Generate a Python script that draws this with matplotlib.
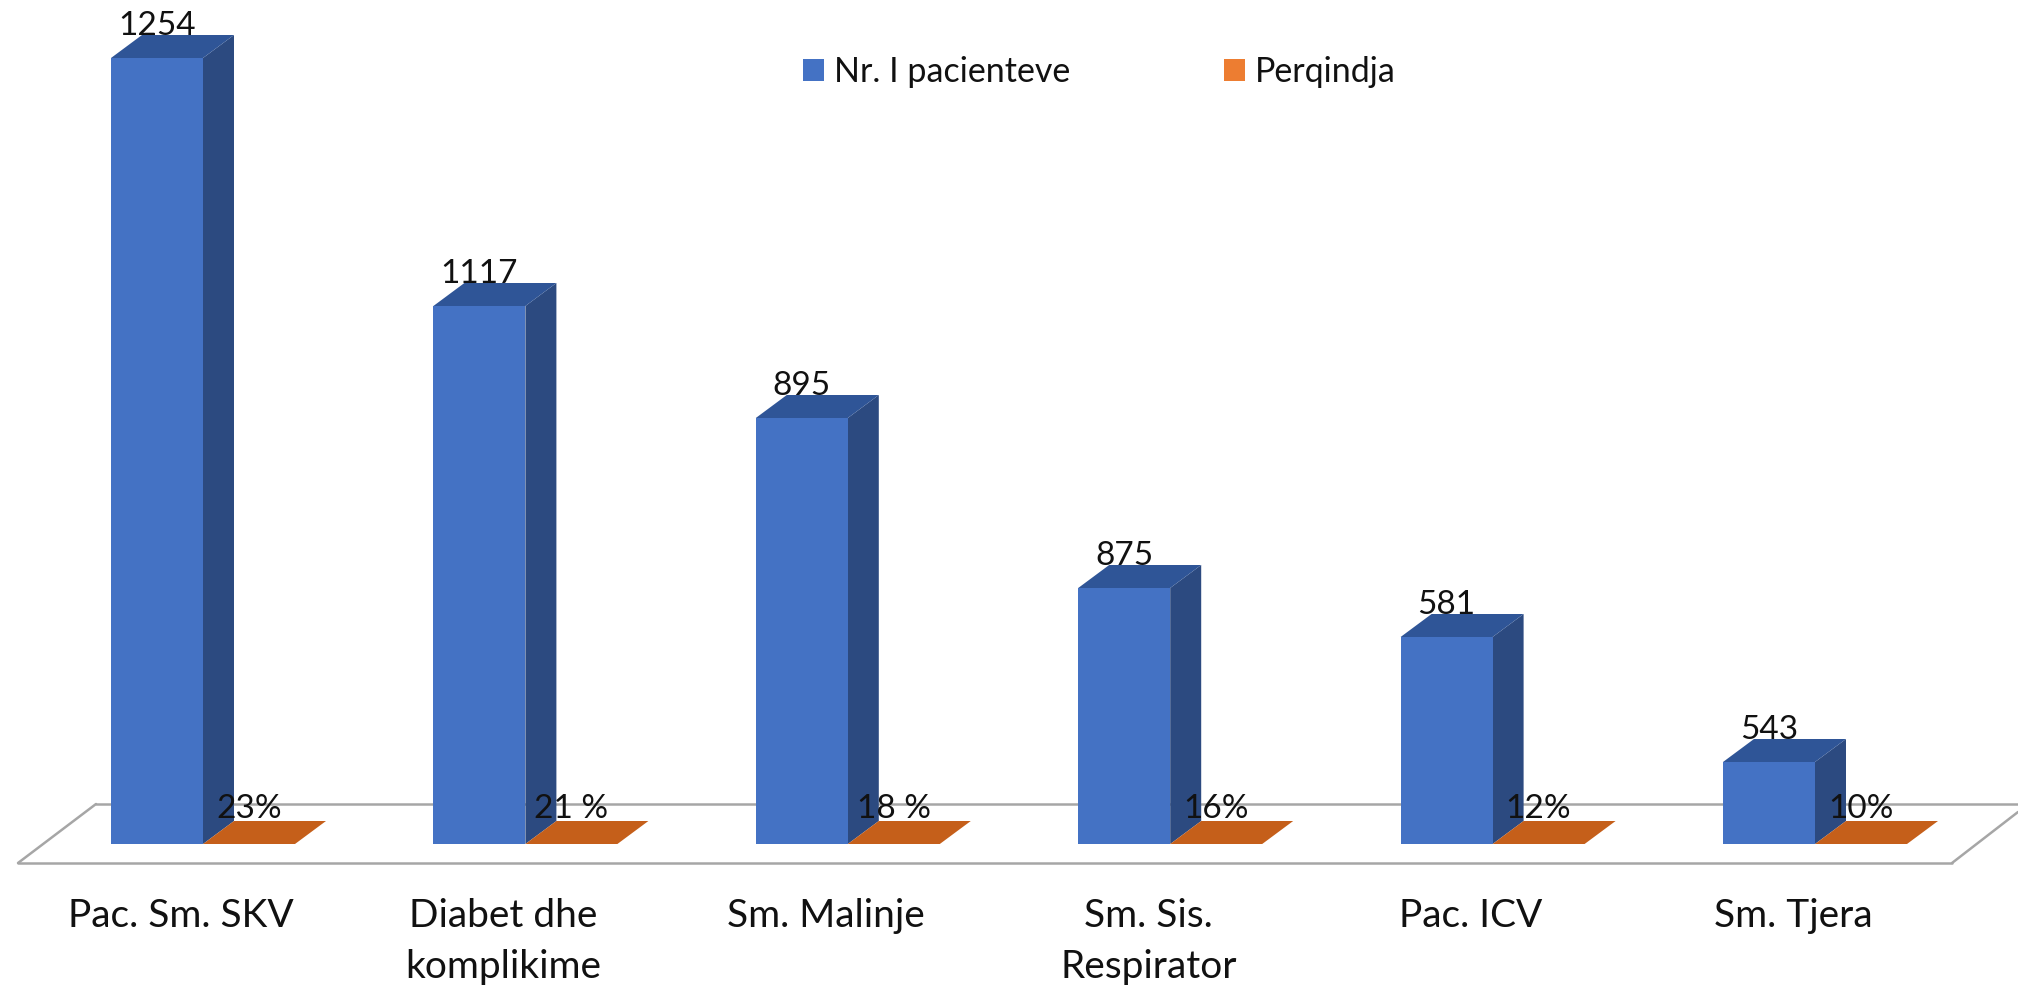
import matplotlib
matplotlib.use("Agg")
import matplotlib.pyplot as plt
from matplotlib.patches import Polygon, Patch

categories = ["Pac. Sm. SKV", "Diabet dhe\nkomplikime", "Sm. Malinje", "Sm. Sis.\nRespirator", "Pac. ICV", "Sm. Tjera"]
patient_labels = ["1254", "1117", "895", "875", "581", "543"]
percent_labels = ["23%", "21 %", "18 %", "16%", "12%", "10%"]
# the drawn bar heights of the reference are not proportional to their labels
drawn_patients = [786, 538, 426, 256, 207, 82]
drawn_percent = [0, 0, 0, 0, 0, 0]
series_names = ["Nr. I pacienteve", "Perqindja"]

W, H = 2018, 991
BASE_PX = 844
GROUP_PX, START_PX = 322.4, 203
BLUE, BLUE_TOP, BLUE_SIDE = "#4472C4", "#2F5597", "#2C4A80"
ORANGE, ORANGE_TOP = "#ED7D31", "#C55F1A"
FLOOR = "#A6A6A6"

plt.rcParams["font.family"] = ["Lato", "DejaVu Sans"]
fig = plt.figure(figsize=(W / 100, H / 100), dpi=100, facecolor="white")
ax = fig.add_axes([0, (H - BASE_PX) / H, 1, BASE_PX / H])
ax.set_xlim(-START_PX / GROUP_PX, (W - START_PX) / GROUP_PX)
ax.set_ylim(0, BASE_PX)
for s in ax.spines.values():
    s.set_visible(False)
ax.set_yticks([])

bar_w = 92 / GROUP_PX
dx, dy = 31 / GROUP_PX, 23

# floor
x0, x1 = ax.get_xlim()
fl = dict(color=FLOOR, lw=1.8, clip_on=False, zorder=1, solid_capstyle="round")
front_l, front_r = x0 + 18 / GROUP_PX, x0 + 1952 / GROUP_PX
back_l, back_r = x0 + 96 / GROUP_PX, x1
ax.plot([front_l, front_r], [-19, -19], **fl)
ax.plot([back_l, back_r], [40, 40], **fl)
ax.plot([front_l, back_l], [-19, 40], **fl)
ax.plot([front_r, back_r], [-19, 32], **fl)

xs = list(range(len(categories)))
ax.bar([x - bar_w / 2 for x in xs], drawn_patients, bar_w, color=BLUE, zorder=3)
for x, h in zip(xs, drawn_patients):
    l, r = x - bar_w, x
    ax.add_patch(Polygon([(r, 0), (r + dx, dy), (r + dx, h + dy), (r, h)], color=BLUE_SIDE, lw=0, zorder=2))
    ax.add_patch(Polygon([(l, h), (r, h), (r + dx, h + dy), (l + dx, h + dy)], color=BLUE_TOP, lw=0, zorder=3))
    ax.annotate(patient_labels[x], (x - bar_w / 2, h), xytext=(0, 23), textcoords="offset points",
                ha="center", va="center", fontsize=24, color="#111111", zorder=6)
for x, h in zip(xs, drawn_percent):
    l, r = x, x + bar_w
    ax.add_patch(Polygon([(l, h), (r, h), (r + dx, h + dy), (l + dx, h + dy)], color=ORANGE_TOP, lw=0, zorder=3))
    ax.annotate(percent_labels[x], (x + bar_w / 2, h), xytext=(0, 25), textcoords="offset points",
                ha="center", va="center", fontsize=24, color="#111111", zorder=6)

ax.set_xticks([x - 0.068 for x in xs], categories, fontsize=28, color="#111111", linespacing=1.5)
ax.tick_params(axis="x", length=0, pad=39)

handles = [Patch(color=BLUE, lw=0), Patch(color=ORANGE, lw=0)]
fig.legend(handles, series_names, loc="center left", bbox_to_anchor=(803 / W, 1 - 72 / H),
           ncol=2, frameon=False, fontsize=24.5, borderpad=0, borderaxespad=0,
           handlelength=0.62, handleheight=0.62, handletextpad=0.3, columnspacing=4.5,
           labelcolor="#111111")

fig.savefig("out.png", dpi=100, facecolor="white")
